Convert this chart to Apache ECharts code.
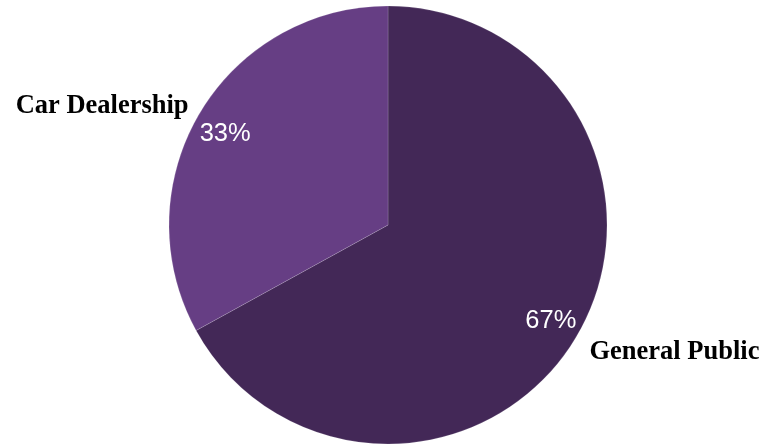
<!DOCTYPE html>
<html>
<head>
<meta charset="utf-8">
<script src="https://cdn.jsdelivr.net/npm/echarts@6/dist/echarts.min.js"></script>
<style>
  html, body { margin: 0; padding: 0; background: #ffffff; }
  #chart { width: 766px; height: 444px; }
</style>
</head>
<body>
<div id="chart"></div>
<script>
// Share of buyers by type
const categories = ['General Public', 'Car Dealership'];
const shares = [67, 33];
const sliceColors = ['#432857', '#663e84'];
// nudges for the outside name labels and the rim percentage labels
const nameOffsets = [[6, 12], [-4, -3]];
const pctOffsets = [[0, 0], [0, 5]];

const chart = echarts.init(document.getElementById('chart'), null, { renderer: 'canvas' });

const center = [388, 225];
const R = 219;

chart.setOption({
  animation: false,
  backgroundColor: '#ffffff',
  series: [
    {
      // slices with category names outside
      type: 'pie',
      center: center,
      radius: [0, R],
      startAngle: 90,
      clockwise: true,
      avoidLabelOverlap: false,
      data: categories.map((name, i) => ({
        name: name,
        value: shares[i],
        itemStyle: { color: sliceColors[i] },
        label: { offset: nameOffsets[i] }
      })),
      itemStyle: { borderColor: 'rgba(255,255,255,0.15)', borderWidth: 1 },
      label: {
        show: true,
        position: 'outside',
        formatter: '{b}',
        fontFamily: '"Liberation Serif", "Times New Roman", serif',
        fontWeight: 'bold',
        fontSize: 26.5,
        color: '#000000',
        distanceToLabelLine: 0
      },
      labelLine: { show: false, length: 8, length2: 0 },
      emphasis: { disabled: true }
    },
    {
      // percentage labels near the rim
      type: 'pie',
      center: center,
      radius: [R * 0.7, R],
      startAngle: 90,
      clockwise: true,
      silent: true,
      data: categories.map((name, i) => ({
        name: name,
        value: shares[i],
        label: { offset: pctOffsets[i] }
      })),
      itemStyle: { color: 'rgba(0,0,0,0)' },
      label: {
        show: true,
        position: 'inside',
        formatter: '{c}%',
        fontFamily: '"Liberation Sans", Arial, sans-serif',
        fontSize: 25.5,
        color: '#ffffff'
      },
      labelLine: { show: false },
      emphasis: { disabled: true }
    }
  ]
});
</script>
</body>
</html>
